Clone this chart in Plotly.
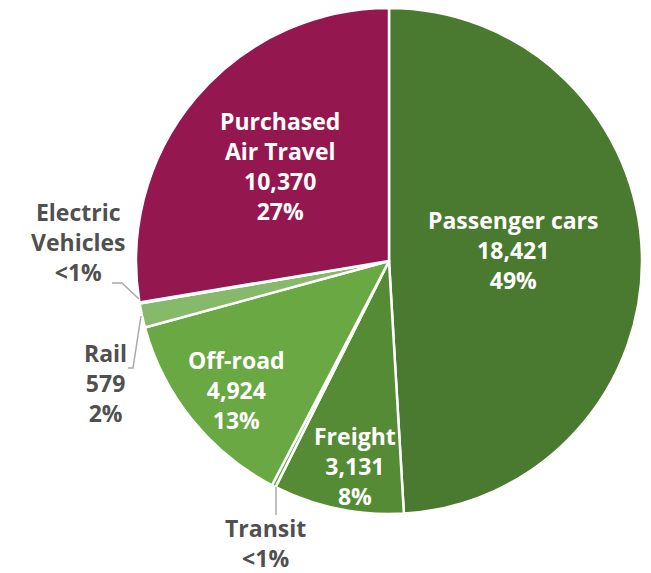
import plotly.graph_objects as go

labels = ["Passenger cars", "Freight", "Transit", "Off-road", "Rail", "Electric Vehicles", "Purchased Air Travel"]
display_names = ["Passenger cars", "Freight", "Transit", "Off-road", "Rail", "Electric<br>Vehicles", "Purchased<br>Air Travel"]
values = [18421, 3131, 95, 4924, 579, 25, 10370]
pct_labels = ["49%", "8%", "<1%", "13%", "2%", "<1%", "27%"]
show_value = [True, True, False, True, True, False, True]
colors = ["#4a7a2f", "#568b36", "#66a540", "#69a842", "#86b96a", "#b9d7a5", "#95174f"]

W, H = 651, 573

def px(x):
    return x / W

def py(y):
    return 1 - y / H

fig = go.Figure(go.Pie(
    labels=labels,
    values=values,
    sort=False,
    direction="clockwise",
    rotation=0,
    marker=dict(colors=colors, line=dict(color="white", width=2.5)),
    textinfo="none",
    hoverinfo="label+value+percent",
    domain=dict(x=[px(135), px(643)], y=[py(514), py(8)]),
    showlegend=False,
))

label_pos = {
    "Passenger cars": (513, 250, "inside"),
    "Freight": (355, 466, "inside"),
    "Transit": (265, 543, "outside"),
    "Off-road": (237, 390, "inside"),
    "Rail": (105, 383, "outside"),
    "Electric Vehicles": (78, 242, "outside"),
    "Purchased Air Travel": (280, 166, "inside"),
}

annotations = []
for name, disp, v, p, sv in zip(labels, display_names, values, pct_labels, show_value):
    x, y, kind = label_pos[name]
    parts = [disp]
    if sv:
        parts.append(f"{v:,}")
    parts.append(p)
    text = "<br>".join(parts)
    annotations.append(dict(
        x=px(x), y=py(y), xref="paper", yref="paper",
        text=text, showarrow=False, align="center",
        xanchor="center", yanchor="middle",
        font=dict(family="Open Sans", size=23, weight="bold",
                  color="white" if kind == "inside" else "#505050"),
    ))

line_col = "#a8a8a8"
shapes = [
    dict(type="path", xref="paper", yref="paper",
         path=f"M {px(112)},{py(283)} L {px(122)},{py(283)} L {px(139)},{py(299)}",
         line=dict(color=line_col, width=1.5)),
    dict(type="path", xref="paper", yref="paper",
         path=f"M {px(128)},{py(368)} L {px(133)},{py(368)} L {px(141)},{py(316)}",
         line=dict(color=line_col, width=1.5)),
    dict(type="line", xref="paper", yref="paper",
         x0=px(276), y0=py(487), x1=px(276), y1=py(515),
         line=dict(color=line_col, width=1.5)),
]

fig.update_layout(
    width=W, height=H,
    margin=dict(l=0, r=0, t=0, b=0),
    paper_bgcolor="white",
    plot_bgcolor="white",
    annotations=annotations,
    shapes=shapes,
)

fig.write_html("out.html", config={"displayModeBar": False},
               post_script="document.body.style.margin='0';")
